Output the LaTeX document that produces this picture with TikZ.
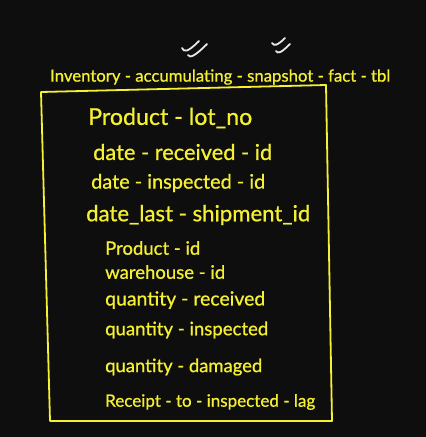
\documentclass[tikz,border=0pt]{standalone}
\usepackage{fontspec}
\newfontfamily\handfont[FakeBold=0.8]{Lato}
\definecolor{bg}{HTML}{0E0E0E}
\definecolor{hy}{HTML}{F5F032}
\definecolor{chalk}{HTML}{E8E8E8}
\tikzset{
  ink/.style={draw=hy, line width=1.8pt, line join=round, line cap=round},
  ditto/.style={draw=chalk, line width=1.8pt, line cap=round},
  field/.style={text=hy, anchor=west, inner sep=0pt, font=\handfont\fontsize{20}{22}\selectfont},
}
\newcommand{\fw}[2]{\resizebox{#1pt}{!}{#2}}
\begin{document}
\begin{tikzpicture}[x=1pt,y=-1pt]
\fill[bg] (0,0) rectangle (426,437);
\useasboundingbox (0,0) rectangle (426,437);
% ditto marks
\draw[ditto] (182,48) .. controls (184,52) and (187,53) .. (199,41);
\draw[ditto] (188,55) .. controls (190,58) and (194,57) .. (207,44);
\draw[ditto] (272,43) .. controls (274,46) and (277,46) .. (285,38);
\draw[ditto] (276,51) .. controls (278,54) and (281,53) .. (290,44);
% title
\node[field] (title) at (50,77) {\fw{340}{Inventory - accumulating - snapshot - fact - tbl}};
% box
\coordinate (tl) at (41,92);
\coordinate (tr) at (326,85);
\coordinate (br) at (332,421);
\coordinate (bl) at (50,421);
\draw[ink] (tl) -- (tr) -- (br) -- (bl) -- cycle;
% fields
\node[field] (f1) at (88,118) {\fw{164}{Product - lot\_no}};
\node[field] (f2) at (93,152) {\fw{179}{date - received - id}};
\node[field] (f3) at (91,183) {\fw{174}{date - inspected - id}};
\node[field] (f4) at (86,215) {\fw{224}{date\_last - shipment\_id}};
\node[field] (f5) at (105,248) {\fw{95}{Product - id}};
\node[field] (f6) at (105,272) {\fw{120}{warehouse - id}};
\node[field] (f7) at (105,300) {\fw{160}{quantity - received}};
\node[field] (f8) at (105,330) {\fw{163}{quantity - inspected}};
\node[field] (f9) at (105,367) {\fw{157}{quantity - damaged}};
\node[field] (f10) at (105,402) {\fw{210}{Receipt - to - inspected - lag}};
\end{tikzpicture}
\end{document}
